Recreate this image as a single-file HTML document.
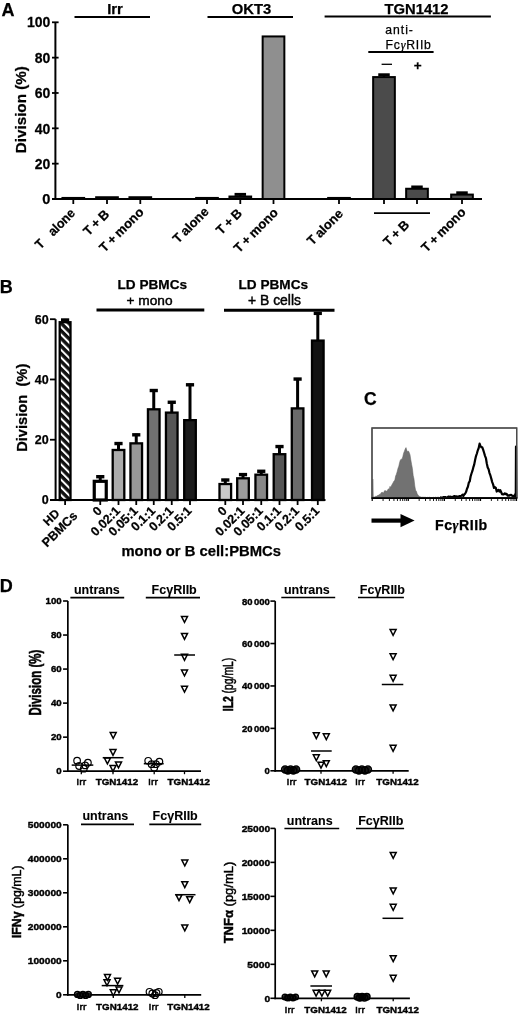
<!DOCTYPE html>
<html><head><meta charset="utf-8"><title>Figure</title>
<style>
html,body{margin:0;padding:0;background:#fff;width:520px;height:1015px;overflow:hidden;}
svg{display:block;will-change:transform;}
text{font-family:"Liberation Sans",sans-serif;stroke:#000;stroke-width:0.25px;}
</style></head><body>
<svg width="520" height="1015" viewBox="0 0 520 1015">
<rect width="520" height="1015" fill="#fff"/>
<text x="1.4" y="15.8" font-size="18" font-weight="bold" text-anchor="start" fill="#000" >A</text>
<line x1="55.4" y1="22.3" x2="55.4" y2="200" stroke="#000" stroke-width="2" stroke-linecap="butt"/>
<line x1="52" y1="22.30000000000001" x2="58.6" y2="22.30000000000001" stroke="#000" stroke-width="1.8" stroke-linecap="butt"/>
<text x="50.3" y="27.50000000000001" font-size="14.6" font-weight="bold" text-anchor="end" fill="#000" transform="translate(50.3,0) scale(0.96,1) translate(-50.3,0)">100</text>
<line x1="52" y1="57.640000000000015" x2="58.6" y2="57.640000000000015" stroke="#000" stroke-width="1.8" stroke-linecap="butt"/>
<text x="50.3" y="62.84000000000002" font-size="14.6" font-weight="bold" text-anchor="end" fill="#000" transform="translate(50.3,0) scale(0.96,1) translate(-50.3,0)">80</text>
<line x1="52" y1="92.98" x2="58.6" y2="92.98" stroke="#000" stroke-width="1.8" stroke-linecap="butt"/>
<text x="50.3" y="98.18" font-size="14.6" font-weight="bold" text-anchor="end" fill="#000" transform="translate(50.3,0) scale(0.96,1) translate(-50.3,0)">60</text>
<line x1="52" y1="128.32" x2="58.6" y2="128.32" stroke="#000" stroke-width="1.8" stroke-linecap="butt"/>
<text x="50.3" y="133.51999999999998" font-size="14.6" font-weight="bold" text-anchor="end" fill="#000" transform="translate(50.3,0) scale(0.96,1) translate(-50.3,0)">40</text>
<line x1="52" y1="163.66" x2="58.6" y2="163.66" stroke="#000" stroke-width="1.8" stroke-linecap="butt"/>
<text x="50.3" y="168.85999999999999" font-size="14.6" font-weight="bold" text-anchor="end" fill="#000" transform="translate(50.3,0) scale(0.96,1) translate(-50.3,0)">20</text>
<text x="50.3" y="204.2" font-size="14.6" font-weight="bold" text-anchor="end" fill="#000" >0</text>
<text x="0" y="0" font-size="15.2" font-weight="bold" text-anchor="middle" transform="translate(25.6,109.7) rotate(-90)">Division (%)</text>
<line x1="52" y1="199.0" x2="482" y2="199.0" stroke="#000" stroke-width="2" stroke-linecap="butt"/>
<line x1="73.3" y1="199.0" x2="73.3" y2="204" stroke="#000" stroke-width="1.8" stroke-linecap="butt"/>
<line x1="107" y1="199.0" x2="107" y2="204" stroke="#000" stroke-width="1.8" stroke-linecap="butt"/>
<line x1="140.3" y1="199.0" x2="140.3" y2="204" stroke="#000" stroke-width="1.8" stroke-linecap="butt"/>
<line x1="207" y1="199.0" x2="207" y2="204" stroke="#000" stroke-width="1.8" stroke-linecap="butt"/>
<line x1="240.3" y1="199.0" x2="240.3" y2="204" stroke="#000" stroke-width="1.8" stroke-linecap="butt"/>
<line x1="273.5" y1="199.0" x2="273.5" y2="204" stroke="#000" stroke-width="1.8" stroke-linecap="butt"/>
<line x1="339" y1="199.0" x2="339" y2="204" stroke="#000" stroke-width="1.8" stroke-linecap="butt"/>
<line x1="384" y1="199.0" x2="384" y2="204" stroke="#000" stroke-width="1.8" stroke-linecap="butt"/>
<line x1="417" y1="199.0" x2="417" y2="204" stroke="#000" stroke-width="1.8" stroke-linecap="butt"/>
<line x1="462" y1="199.0" x2="462" y2="204" stroke="#000" stroke-width="1.8" stroke-linecap="butt"/>
<rect x="62.449999999999996" y="197.9398" width="21.7" height="1.060200000000009" fill="#222" stroke="#000" stroke-width="2.0"/>
<rect x="96.15" y="197.233" width="21.7" height="1.766999999999996" fill="#222" stroke="#000" stroke-width="2.0"/>
<rect x="129.45000000000002" y="197.233" width="21.7" height="1.766999999999996" fill="#222" stroke="#000" stroke-width="2.0"/>
<rect x="196.15" y="197.9398" width="21.7" height="1.060200000000009" fill="#222" stroke="#000" stroke-width="2.0"/>
<line x1="240.3" y1="194.4058" x2="240.3" y2="196.5262" stroke="#000" stroke-width="2.4" stroke-linecap="butt"/>
<line x1="234.55" y1="194.4058" x2="246.05" y2="194.4058" stroke="#000" stroke-width="3.0" stroke-linecap="butt"/>
<rect x="229.45000000000002" y="196.5262" width="21.7" height="2.4738000000000113" fill="#222" stroke="#000" stroke-width="2.0"/>
<rect x="262.65" y="36.43600000000001" width="21.7" height="162.564" fill="#8f8f8f" stroke="#000" stroke-width="2.0"/>
<rect x="328.15" y="197.9398" width="21.7" height="1.060200000000009" fill="#222" stroke="#000" stroke-width="2.0"/>
<line x1="384" y1="74.77990000000001" x2="384" y2="77.07700000000001" stroke="#000" stroke-width="2.4" stroke-linecap="butt"/>
<line x1="378.25" y1="74.77990000000001" x2="389.75" y2="74.77990000000001" stroke="#000" stroke-width="3.0" stroke-linecap="butt"/>
<rect x="373.15" y="77.07700000000001" width="21.7" height="121.92299999999999" fill="#4b4b4b" stroke="#000" stroke-width="2.0"/>
<line x1="417" y1="186.9844" x2="417" y2="188.7514" stroke="#000" stroke-width="2.4" stroke-linecap="butt"/>
<line x1="411.25" y1="186.9844" x2="422.75" y2="186.9844" stroke="#000" stroke-width="3.0" stroke-linecap="butt"/>
<rect x="406.15" y="188.7514" width="21.7" height="10.24860000000001" fill="#4b4b4b" stroke="#000" stroke-width="2.0"/>
<line x1="462" y1="192.8155" x2="462" y2="194.5825" stroke="#000" stroke-width="2.4" stroke-linecap="butt"/>
<line x1="456.25" y1="192.8155" x2="467.75" y2="192.8155" stroke="#000" stroke-width="3.0" stroke-linecap="butt"/>
<rect x="451.15" y="194.5825" width="21.7" height="4.41749999999999" fill="#4b4b4b" stroke="#000" stroke-width="2.0"/>
<line x1="74.5" y1="17" x2="150" y2="17" stroke="#000" stroke-width="2" stroke-linecap="butt"/>
<text x="115" y="13.6" font-size="14.8" font-weight="bold" text-anchor="middle" fill="#000" >Irr</text>
<line x1="207.5" y1="17" x2="293" y2="17" stroke="#000" stroke-width="2" stroke-linecap="butt"/>
<text x="251.6" y="13.6" font-size="14.8" font-weight="bold" text-anchor="middle" fill="#000" >OKT3</text>
<line x1="324.6" y1="16.6" x2="490.9" y2="16.6" stroke="#000" stroke-width="2" stroke-linecap="butt"/>
<text x="416.5" y="13.6" font-size="14.8" font-weight="bold" text-anchor="middle" fill="#000" >TGN1412</text>
<text x="385.2" y="33.7" font-size="12.2" font-weight="normal" text-anchor="start" fill="#000" letter-spacing="1.0" stroke="#000" stroke-width="0.35">anti-</text>
<text x="385.6" y="48.7" font-size="12.2" font-weight="normal" text-anchor="start" fill="#000" letter-spacing="0.75" stroke="#000" stroke-width="0.35">Fc<tspan font-family="Liberation Serif" font-style="italic">&#947;</tspan>RIIb</text>
<line x1="368.3" y1="51.9" x2="433.6" y2="51.9" stroke="#000" stroke-width="2" stroke-linecap="butt"/>
<line x1="381.6" y1="64.3" x2="392" y2="64.3" stroke="#000" stroke-width="1.3" stroke-linecap="butt"/>
<text x="417.6" y="69.6" font-size="13.5" font-weight="bold" text-anchor="middle" fill="#000" >+</text>
<line x1="374" y1="213.2" x2="430" y2="213.2" stroke="#000" stroke-width="1.8" stroke-linecap="butt"/>
<text x="0" y="0" font-size="13" font-weight="bold" text-anchor="end" word-spacing="-0.8" transform="translate(75.9,214) rotate(-45) scale(0.95,1)">T&#160;&#160;&#160;&#160;alone</text>
<text x="0" y="0" font-size="13" font-weight="bold" text-anchor="end" word-spacing="-0.8" transform="translate(110.1,215) rotate(-45) scale(1,1)">T + B</text>
<text x="0" y="0" font-size="13" font-weight="bold" text-anchor="end" word-spacing="-0.8" transform="translate(144.6,212.9) rotate(-45) scale(1,1)">T + mono</text>
<text x="0" y="0" font-size="13" font-weight="bold" text-anchor="end" word-spacing="-0.8" transform="translate(209.6,212.5) rotate(-45) scale(1,1)">T alone</text>
<text x="0" y="0" font-size="13" font-weight="bold" text-anchor="end" word-spacing="-0.8" transform="translate(242.9,214) rotate(-45) scale(1,1)">T + B</text>
<text x="0" y="0" font-size="13" font-weight="bold" text-anchor="end" word-spacing="-0.8" transform="translate(278.9,213.5) rotate(-45) scale(1,1)">T + mono</text>
<text x="0" y="0" font-size="13" font-weight="bold" text-anchor="end" word-spacing="-0.8" transform="translate(343.9,214.5) rotate(-45) scale(1,1)">T alone</text>
<text x="0" y="0" font-size="13" font-weight="bold" text-anchor="end" word-spacing="-0.8" transform="translate(410.1,225.5) rotate(-45) scale(1,1)">T + B</text>
<text x="0" y="0" font-size="13" font-weight="bold" text-anchor="end" word-spacing="-0.8" transform="translate(466.6,213) rotate(-45) scale(1,1)">T + mono</text>
<text x="-0.2" y="293.3" font-size="18" font-weight="bold" text-anchor="start" fill="#000" >B</text>
<line x1="55.6" y1="319.2" x2="55.6" y2="501" stroke="#000" stroke-width="2" stroke-linecap="butt"/>
<line x1="50" y1="319.2" x2="55.6" y2="319.2" stroke="#000" stroke-width="1.8" stroke-linecap="butt"/>
<text x="48.7" y="323.5" font-size="12.5" font-weight="bold" text-anchor="end" fill="#000" >60</text>
<line x1="50" y1="379.46666666666664" x2="55.6" y2="379.46666666666664" stroke="#000" stroke-width="1.8" stroke-linecap="butt"/>
<text x="48.7" y="383.76666666666665" font-size="12.5" font-weight="bold" text-anchor="end" fill="#000" >40</text>
<line x1="50" y1="439.73333333333335" x2="55.6" y2="439.73333333333335" stroke="#000" stroke-width="1.8" stroke-linecap="butt"/>
<text x="48.7" y="444.03333333333336" font-size="12.5" font-weight="bold" text-anchor="end" fill="#000" >20</text>
<line x1="50" y1="500.0" x2="55.6" y2="500.0" stroke="#000" stroke-width="1.8" stroke-linecap="butt"/>
<text x="48.7" y="504.3" font-size="12.5" font-weight="bold" text-anchor="end" fill="#000" >0</text>
<text x="0" y="0" font-size="14.7" font-weight="bold" text-anchor="middle" transform="translate(27,407.8) rotate(-90)">Division&#160; (%)</text>
<line x1="50" y1="500.0" x2="325.5" y2="500.0" stroke="#000" stroke-width="2" stroke-linecap="butt"/>
<defs><pattern id="hatch" patternUnits="userSpaceOnUse" width="5.4" height="5.4" patternTransform="rotate(-45)"><rect width="5.4" height="5.4" fill="#111"/><rect x="0" y="0" width="2.0" height="5.4" fill="#fff"/></pattern></defs>
<line x1="65.1" y1="318.89866666666666" x2="65.1" y2="322.2133333333333" stroke="#000" stroke-width="3.0" stroke-linecap="butt"/>
<line x1="60.99999999999999" y1="319.9986666666667" x2="69.19999999999999" y2="319.9986666666667" stroke="#000" stroke-width="3.4" stroke-linecap="butt"/>
<rect x="59.699999999999996" y="322.2133333333333" width="10.8" height="177.7866666666667" fill="url(#hatch)" stroke="#000" stroke-width="2.3"/>
<line x1="100.25" y1="475.592" x2="100.25" y2="481.31733333333335" stroke="#000" stroke-width="3.0" stroke-linecap="butt"/>
<line x1="96.15" y1="476.692" x2="104.35" y2="476.692" stroke="#000" stroke-width="3.4" stroke-linecap="butt"/>
<rect x="94.25" y="481.31733333333335" width="12.0" height="18.68266666666665" fill="#fff" stroke="#000" stroke-width="3.2"/>
<line x1="118.5" y1="442.44533333333334" x2="118.5" y2="449.97866666666664" stroke="#000" stroke-width="3.0" stroke-linecap="butt"/>
<line x1="114.4" y1="443.54533333333336" x2="122.6" y2="443.54533333333336" stroke="#000" stroke-width="3.4" stroke-linecap="butt"/>
<rect x="112.7" y="449.97866666666664" width="11.6" height="50.02133333333336" fill="#acacac" stroke="#000" stroke-width="2.3"/>
<line x1="136.25" y1="433.70666666666665" x2="136.25" y2="443.34933333333333" stroke="#000" stroke-width="3.0" stroke-linecap="butt"/>
<line x1="132.15" y1="434.8066666666667" x2="140.35" y2="434.8066666666667" stroke="#000" stroke-width="3.4" stroke-linecap="butt"/>
<rect x="130.45" y="443.34933333333333" width="11.6" height="56.650666666666666" fill="#989898" stroke="#000" stroke-width="2.3"/>
<line x1="153.75" y1="389.41066666666666" x2="153.75" y2="409.29866666666663" stroke="#000" stroke-width="3.0" stroke-linecap="butt"/>
<line x1="149.65" y1="390.5106666666667" x2="157.85" y2="390.5106666666667" stroke="#000" stroke-width="3.4" stroke-linecap="butt"/>
<rect x="147.95" y="409.29866666666663" width="11.6" height="90.70133333333337" fill="#717171" stroke="#000" stroke-width="2.3"/>
<line x1="171.75" y1="401.16266666666667" x2="171.75" y2="412.61333333333334" stroke="#000" stroke-width="3.0" stroke-linecap="butt"/>
<line x1="167.65" y1="402.2626666666667" x2="175.85" y2="402.2626666666667" stroke="#000" stroke-width="3.4" stroke-linecap="butt"/>
<rect x="165.95" y="412.61333333333334" width="11.6" height="87.38666666666666" fill="#565656" stroke="#000" stroke-width="2.3"/>
<line x1="190" y1="383.68533333333335" x2="190" y2="420.14666666666665" stroke="#000" stroke-width="3.0" stroke-linecap="butt"/>
<line x1="185.9" y1="384.78533333333337" x2="194.1" y2="384.78533333333337" stroke="#000" stroke-width="3.4" stroke-linecap="butt"/>
<rect x="184.2" y="420.14666666666665" width="11.6" height="79.85333333333335" fill="#1c1c1c" stroke="#000" stroke-width="2.3"/>
<line x1="225.3" y1="478.90666666666664" x2="225.3" y2="484.02933333333334" stroke="#000" stroke-width="3.0" stroke-linecap="butt"/>
<line x1="221.20000000000002" y1="480.00666666666666" x2="229.4" y2="480.00666666666666" stroke="#000" stroke-width="3.4" stroke-linecap="butt"/>
<rect x="219.5" y="484.02933333333334" width="11.6" height="15.97066666666666" fill="#cacaca" stroke="#000" stroke-width="2.3"/>
<line x1="243" y1="473.48266666666666" x2="243" y2="478.304" stroke="#000" stroke-width="3.0" stroke-linecap="butt"/>
<line x1="238.9" y1="474.5826666666667" x2="247.1" y2="474.5826666666667" stroke="#000" stroke-width="3.4" stroke-linecap="butt"/>
<rect x="237.2" y="478.304" width="11.6" height="21.696000000000026" fill="#9c9c9c" stroke="#000" stroke-width="2.3"/>
<line x1="261.25" y1="470.168" x2="261.25" y2="474.688" stroke="#000" stroke-width="3.0" stroke-linecap="butt"/>
<line x1="257.15" y1="471.26800000000003" x2="265.35" y2="471.26800000000003" stroke="#000" stroke-width="3.4" stroke-linecap="butt"/>
<rect x="255.45" y="474.688" width="11.6" height="25.312000000000012" fill="#878787" stroke="#000" stroke-width="2.3"/>
<line x1="279.5" y1="445.45866666666666" x2="279.5" y2="454.19733333333335" stroke="#000" stroke-width="3.0" stroke-linecap="butt"/>
<line x1="275.4" y1="446.5586666666667" x2="283.6" y2="446.5586666666667" stroke="#000" stroke-width="3.4" stroke-linecap="butt"/>
<rect x="273.7" y="454.19733333333335" width="11.6" height="45.80266666666665" fill="#555" stroke="#000" stroke-width="2.3"/>
<line x1="297.6" y1="377.96" x2="297.6" y2="408.3946666666667" stroke="#000" stroke-width="3.0" stroke-linecap="butt"/>
<line x1="293.5" y1="379.06" x2="301.70000000000005" y2="379.06" stroke="#000" stroke-width="3.4" stroke-linecap="butt"/>
<rect x="291.8" y="408.3946666666667" width="11.6" height="91.6053333333333" fill="#6a6a6a" stroke="#000" stroke-width="2.3"/>
<line x1="317.8" y1="312.2693333333333" x2="317.8" y2="340.5946666666666" stroke="#000" stroke-width="3.0" stroke-linecap="butt"/>
<line x1="313.7" y1="313.3693333333333" x2="321.90000000000003" y2="313.3693333333333" stroke="#000" stroke-width="3.4" stroke-linecap="butt"/>
<rect x="312.0" y="340.5946666666666" width="11.6" height="159.40533333333337" fill="#111" stroke="#000" stroke-width="2.3"/>
<line x1="65.1" y1="500.0" x2="65.1" y2="505" stroke="#000" stroke-width="1.8" stroke-linecap="butt"/>
<line x1="100.25" y1="500.0" x2="100.25" y2="505" stroke="#000" stroke-width="1.8" stroke-linecap="butt"/>
<line x1="118.5" y1="500.0" x2="118.5" y2="505" stroke="#000" stroke-width="1.8" stroke-linecap="butt"/>
<line x1="136.25" y1="500.0" x2="136.25" y2="505" stroke="#000" stroke-width="1.8" stroke-linecap="butt"/>
<line x1="153.75" y1="500.0" x2="153.75" y2="505" stroke="#000" stroke-width="1.8" stroke-linecap="butt"/>
<line x1="171.75" y1="500.0" x2="171.75" y2="505" stroke="#000" stroke-width="1.8" stroke-linecap="butt"/>
<line x1="190" y1="500.0" x2="190" y2="505" stroke="#000" stroke-width="1.8" stroke-linecap="butt"/>
<line x1="225.3" y1="500.0" x2="225.3" y2="505" stroke="#000" stroke-width="1.8" stroke-linecap="butt"/>
<line x1="243" y1="500.0" x2="243" y2="505" stroke="#000" stroke-width="1.8" stroke-linecap="butt"/>
<line x1="261.25" y1="500.0" x2="261.25" y2="505" stroke="#000" stroke-width="1.8" stroke-linecap="butt"/>
<line x1="279.5" y1="500.0" x2="279.5" y2="505" stroke="#000" stroke-width="1.8" stroke-linecap="butt"/>
<line x1="297.6" y1="500.0" x2="297.6" y2="505" stroke="#000" stroke-width="1.8" stroke-linecap="butt"/>
<line x1="317.8" y1="500.0" x2="317.8" y2="505" stroke="#000" stroke-width="1.8" stroke-linecap="butt"/>
<text x="152.3" y="289.4" font-size="13.6" font-weight="bold" text-anchor="middle" fill="#000" >LD PBMCs</text>
<text x="149.5" y="305.3" font-size="13.7" font-weight="normal" text-anchor="middle" fill="#000" style="stroke-width:0.45px">+ mono</text>
<line x1="96.5" y1="310.1" x2="204.3" y2="310.1" stroke="#000" stroke-width="3" stroke-linecap="butt"/>
<text x="273.3" y="289.4" font-size="13.6" font-weight="bold" text-anchor="middle" fill="#000" >LD PBMCs</text>
<text x="274.5" y="305.3" font-size="13.9" font-weight="normal" text-anchor="middle" fill="#000" style="stroke-width:0.45px">+ B cells</text>
<line x1="224" y1="310.3" x2="334.5" y2="310.3" stroke="#000" stroke-width="3" stroke-linecap="butt"/>
<text x="0" y="0" font-size="12" font-weight="bold" text-anchor="end" transform="translate(60.3,514.2) rotate(-45)">HD</text>
<text x="0" y="0" font-size="12.6" font-weight="bold" text-anchor="end" transform="translate(78.2,516.5) rotate(-45)">PBMCs</text>
<text x="0" y="0" font-size="12.5" font-weight="bold" text-anchor="end" transform="translate(102.65,511.6) rotate(-45)">0</text>
<text x="0" y="0" font-size="12.5" font-weight="bold" text-anchor="end" transform="translate(120.9,511.6) rotate(-45)">0.02:1</text>
<text x="0" y="0" font-size="12.5" font-weight="bold" text-anchor="end" transform="translate(138.65,511.6) rotate(-45)">0.05:1</text>
<text x="0" y="0" font-size="12.5" font-weight="bold" text-anchor="end" transform="translate(156.15,511.6) rotate(-45)">0.1:1</text>
<text x="0" y="0" font-size="12.5" font-weight="bold" text-anchor="end" transform="translate(174.15,511.6) rotate(-45)">0.2:1</text>
<text x="0" y="0" font-size="12.5" font-weight="bold" text-anchor="end" transform="translate(192.4,511.6) rotate(-45)">0.5:1</text>
<text x="0" y="0" font-size="12.5" font-weight="bold" text-anchor="end" transform="translate(227.70000000000002,511.6) rotate(-45)">0</text>
<text x="0" y="0" font-size="12.5" font-weight="bold" text-anchor="end" transform="translate(245.4,511.6) rotate(-45)">0.02:1</text>
<text x="0" y="0" font-size="12.5" font-weight="bold" text-anchor="end" transform="translate(263.65,511.6) rotate(-45)">0.05:1</text>
<text x="0" y="0" font-size="12.5" font-weight="bold" text-anchor="end" transform="translate(281.9,511.6) rotate(-45)">0.1:1</text>
<text x="0" y="0" font-size="12.5" font-weight="bold" text-anchor="end" transform="translate(300.0,511.6) rotate(-45)">0.2:1</text>
<text x="0" y="0" font-size="12.5" font-weight="bold" text-anchor="end" transform="translate(320.2,511.6) rotate(-45)">0.5:1</text>
<text x="201.2" y="555.9" font-size="14.8" font-weight="bold" text-anchor="middle" fill="#000" >mono or B cell:PBMCs</text>
<text x="363.9" y="405.3" font-size="17.5" font-weight="bold" text-anchor="start" fill="#000" >C</text>
<rect x="372" y="428" width="144.7" height="70" fill="none" stroke="#555" stroke-width="1.2"/>
<line x1="372" y1="498" x2="517" y2="498" stroke="#000" stroke-width="1.6" stroke-linecap="butt"/>
<polygon points="372.8,498.2 372.8,479 373.2,497.23 374.0,496.85 374.8,497.0 375.6,496.28 376.4,496.33 377.2,495.79 378.0,495.15 378.8,495.11 379.6,494.33 380.4,494.2 381.2,492.71 382.0,492.26 382.8,492.56 383.6,493.02 384.4,490.84 385.2,490.58 386.0,491.05 386.8,491.32 387.6,489.93 388.4,488.84 389.2,489.39 390.0,486.33 390.8,487.44 391.6,485.24 392.4,484.06 393.2,482.47 394.0,480.98 394.8,480.25 395.6,476.09 396.4,474.2 397.2,471.49 398.0,468.28 398.8,466.17 399.6,462.48 400.4,459.94 401.2,459.15 402.0,459.15 402.8,456.63 403.6,453.15 404.4,451.25 405.2,449.02 406.0,447.61 406.8,450.35 407.6,451.55 408.4,451.03 409.2,452.39 410.0,454.7 410.8,459.83 411.6,464.36 412.4,468.39 413.2,475.49 414.0,479.08 414.8,485.96 415.6,490.24 416.4,491.34 417.2,493.83 418.0,495.03 418.8,495.96 419.6,496.46 420.4,496.74 421.2,497.31 422.0,496.9 422.8,497.24 423.6,497.19 424.4,497.22 425.2,497.15 426.0,497.49 426.8,497.61 427.6,497.27 428.4,497.46 429.2,497.01 430.0,497.56 430.8,497.53 431.6,497.8 432.4,497.69 433.2,497.27 434.0,497.36 434.8,497.6 435.6,497.09 436.4,497.45 437.2,497.23 438.0,497.2 438.8,497.16 439.6,497.74 440.4,497.24 441.2,497.35 442.0,497.47 442.8,497.8 443.6,497.25 444.4,497.55 445,498.2" fill="#727272" stroke="#606060" stroke-width="0.5"/>
<polyline points="440.0,497.46 440.9,497.6 441.8,497.6 442.7,497.6 443.6,497.01 444.5,497.15 445.4,497.05 446.3,497.6 447.2,497.6 448.1,496.71 449.0,496.71 449.9,496.75 450.8,496.72 451.7,496.99 452.6,497.04 453.5,496.54 454.4,496.12 455.3,496.52 456.2,496.35 457.1,496.48 458.0,496.84 458.9,496.38 459.8,496.02 460.7,495.99 461.6,495.77 462.5,494.66 463.4,495.88 464.3,494.39 465.2,493.63 466.1,491.84 467.0,488.7 467.9,486.69 468.8,482.67 469.7,481.46 470.6,476.5 471.5,473.51 472.4,470.94 473.3,467.45 474.2,464.64 475.1,459.98 476.0,456.12 476.9,453.48 477.8,450.31 478.7,448.02 479.6,443.63 480.5,446.14 481.4,447.17 482.3,447.41 483.2,449.93 484.1,452.79 485.0,455.86 485.9,458.05 486.8,463.52 487.7,467.48 488.6,469.28 489.5,473.03 490.4,475.43 491.3,478.62 492.2,482.1 493.1,484.38 494.0,487.87 494.9,487.17 495.8,487.82 496.7,491.53 497.6,490.65 498.5,489.81 499.4,491.55 500.3,490.18 501.2,492.27 502.1,494.27 503.0,494.39 503.9,494.33 504.8,493.32 505.7,494.07 506.6,493.79 507.5,495.64 508.4,495.4 509.3,495.64 510.2,495.04 511.1,494.87 512.0,495.65 512.9,495.92 513.8,495.82 514.7,495.93 515.8,493 516,446.5 516.3,498" fill="none" stroke="#000" stroke-width="2.2" stroke-linejoin="round"/>
<rect x="372" y="428" width="144.7" height="70" fill="none" stroke="#4a4a4a" stroke-width="1.3"/>
<line x1="371.5" y1="498.2" x2="517.3" y2="498.2" stroke="#000" stroke-width="1.8" stroke-linecap="butt"/>
<line x1="372.2" y1="498.5" x2="372.2" y2="501" stroke="#000" stroke-width="1.2" stroke-linecap="butt"/>
<line x1="383.07" y1="498.5" x2="383.07" y2="501" stroke="#000" stroke-width="0.9" stroke-linecap="butt"/>
<line x1="389.42" y1="498.5" x2="389.42" y2="501" stroke="#000" stroke-width="0.9" stroke-linecap="butt"/>
<line x1="393.93" y1="498.5" x2="393.93" y2="501" stroke="#000" stroke-width="0.9" stroke-linecap="butt"/>
<line x1="397.43" y1="498.5" x2="397.43" y2="501" stroke="#000" stroke-width="0.9" stroke-linecap="butt"/>
<line x1="400.29" y1="498.5" x2="400.29" y2="501" stroke="#000" stroke-width="0.9" stroke-linecap="butt"/>
<line x1="402.71" y1="498.5" x2="402.71" y2="501" stroke="#000" stroke-width="0.9" stroke-linecap="butt"/>
<line x1="404.8" y1="498.5" x2="404.8" y2="501" stroke="#000" stroke-width="0.9" stroke-linecap="butt"/>
<line x1="406.65" y1="498.5" x2="406.65" y2="501" stroke="#000" stroke-width="0.9" stroke-linecap="butt"/>
<line x1="408.3" y1="498.5" x2="408.3" y2="501" stroke="#000" stroke-width="1.2" stroke-linecap="butt"/>
<line x1="419.17" y1="498.5" x2="419.17" y2="501" stroke="#000" stroke-width="0.9" stroke-linecap="butt"/>
<line x1="425.52" y1="498.5" x2="425.52" y2="501" stroke="#000" stroke-width="0.9" stroke-linecap="butt"/>
<line x1="430.03" y1="498.5" x2="430.03" y2="501" stroke="#000" stroke-width="0.9" stroke-linecap="butt"/>
<line x1="433.53" y1="498.5" x2="433.53" y2="501" stroke="#000" stroke-width="0.9" stroke-linecap="butt"/>
<line x1="436.39" y1="498.5" x2="436.39" y2="501" stroke="#000" stroke-width="0.9" stroke-linecap="butt"/>
<line x1="438.81" y1="498.5" x2="438.81" y2="501" stroke="#000" stroke-width="0.9" stroke-linecap="butt"/>
<line x1="440.9" y1="498.5" x2="440.9" y2="501" stroke="#000" stroke-width="0.9" stroke-linecap="butt"/>
<line x1="442.75" y1="498.5" x2="442.75" y2="501" stroke="#000" stroke-width="0.9" stroke-linecap="butt"/>
<line x1="444.4" y1="498.5" x2="444.4" y2="501" stroke="#000" stroke-width="1.2" stroke-linecap="butt"/>
<line x1="455.27" y1="498.5" x2="455.27" y2="501" stroke="#000" stroke-width="0.9" stroke-linecap="butt"/>
<line x1="461.62" y1="498.5" x2="461.62" y2="501" stroke="#000" stroke-width="0.9" stroke-linecap="butt"/>
<line x1="466.13" y1="498.5" x2="466.13" y2="501" stroke="#000" stroke-width="0.9" stroke-linecap="butt"/>
<line x1="469.63" y1="498.5" x2="469.63" y2="501" stroke="#000" stroke-width="0.9" stroke-linecap="butt"/>
<line x1="472.49" y1="498.5" x2="472.49" y2="501" stroke="#000" stroke-width="0.9" stroke-linecap="butt"/>
<line x1="474.91" y1="498.5" x2="474.91" y2="501" stroke="#000" stroke-width="0.9" stroke-linecap="butt"/>
<line x1="477.0" y1="498.5" x2="477.0" y2="501" stroke="#000" stroke-width="0.9" stroke-linecap="butt"/>
<line x1="478.85" y1="498.5" x2="478.85" y2="501" stroke="#000" stroke-width="0.9" stroke-linecap="butt"/>
<line x1="480.5" y1="498.5" x2="480.5" y2="501" stroke="#000" stroke-width="1.2" stroke-linecap="butt"/>
<line x1="491.37" y1="498.5" x2="491.37" y2="501" stroke="#000" stroke-width="0.9" stroke-linecap="butt"/>
<line x1="497.72" y1="498.5" x2="497.72" y2="501" stroke="#000" stroke-width="0.9" stroke-linecap="butt"/>
<line x1="502.23" y1="498.5" x2="502.23" y2="501" stroke="#000" stroke-width="0.9" stroke-linecap="butt"/>
<line x1="505.73" y1="498.5" x2="505.73" y2="501" stroke="#000" stroke-width="0.9" stroke-linecap="butt"/>
<line x1="508.59" y1="498.5" x2="508.59" y2="501" stroke="#000" stroke-width="0.9" stroke-linecap="butt"/>
<line x1="511.01" y1="498.5" x2="511.01" y2="501" stroke="#000" stroke-width="0.9" stroke-linecap="butt"/>
<line x1="513.1" y1="498.5" x2="513.1" y2="501" stroke="#000" stroke-width="0.9" stroke-linecap="butt"/>
<line x1="514.95" y1="498.5" x2="514.95" y2="501" stroke="#000" stroke-width="0.9" stroke-linecap="butt"/>
<line x1="516.5" y1="498.5" x2="516.5" y2="501" stroke="#000" stroke-width="1.2" stroke-linecap="butt"/>
<line x1="371.5" y1="520.6" x2="403" y2="520.6" stroke="#000" stroke-width="4.2" stroke-linecap="butt"/>
<polygon points="400.5,514 414.6,520.6 400.5,527.2" fill="#000"/>
<text x="435" y="529.6" font-size="14.2" font-weight="bold" text-anchor="start" fill="#000" letter-spacing="0.5">Fc<tspan font-family="Liberation Serif" font-style="italic" font-weight="bold">&#947;</tspan>RIIb</text>
<text x="-0.2" y="592.3" font-size="18" font-weight="bold" text-anchor="start" fill="#000" >D</text>
<line x1="67.85" y1="601" x2="67.85" y2="772.1" stroke="#000" stroke-width="1.7" stroke-linecap="butt"/>
<line x1="67.05" y1="771.2" x2="201" y2="771.2" stroke="#000" stroke-width="1.7" stroke-linecap="butt"/>
<line x1="63.05" y1="601.0" x2="67.85" y2="601.0" stroke="#000" stroke-width="1.6" stroke-linecap="butt"/>
<text x="0" y="0" font-size="9.7" font-weight="bold" text-anchor="end" style="stroke-width:0.4px" transform="translate(61.74999999999999,604.2) scale(1.0,1.0)">100</text>
<line x1="63.05" y1="635.04" x2="67.85" y2="635.04" stroke="#000" stroke-width="1.6" stroke-linecap="butt"/>
<text x="0" y="0" font-size="9.7" font-weight="bold" text-anchor="end" style="stroke-width:0.4px" transform="translate(61.74999999999999,638.24) scale(1.0,1.0)">80</text>
<line x1="63.05" y1="669.08" x2="67.85" y2="669.08" stroke="#000" stroke-width="1.6" stroke-linecap="butt"/>
<text x="0" y="0" font-size="9.7" font-weight="bold" text-anchor="end" style="stroke-width:0.4px" transform="translate(61.74999999999999,672.2800000000001) scale(1.0,1.0)">60</text>
<line x1="63.05" y1="703.12" x2="67.85" y2="703.12" stroke="#000" stroke-width="1.6" stroke-linecap="butt"/>
<text x="0" y="0" font-size="9.7" font-weight="bold" text-anchor="end" style="stroke-width:0.4px" transform="translate(61.74999999999999,706.32) scale(1.0,1.0)">40</text>
<line x1="63.05" y1="737.1600000000001" x2="67.85" y2="737.1600000000001" stroke="#000" stroke-width="1.6" stroke-linecap="butt"/>
<text x="0" y="0" font-size="9.7" font-weight="bold" text-anchor="end" style="stroke-width:0.4px" transform="translate(61.74999999999999,740.3600000000001) scale(1.0,1.0)">20</text>
<line x1="63.05" y1="771.2" x2="67.85" y2="771.2" stroke="#000" stroke-width="1.6" stroke-linecap="butt"/>
<text x="0" y="0" font-size="9.7" font-weight="bold" text-anchor="end" style="stroke-width:0.4px" transform="translate(61.74999999999999,774.4000000000001) scale(1.0,1.0)">0</text>
<text x="0" y="0" font-size="16" font-weight="bold" text-anchor="middle" style="stroke-width:0.55px" transform="translate(41.3,682.6) rotate(-90) scale(0.72,1)">Division (%)</text>
<line x1="70.4" y1="597.7" x2="124.2" y2="597.7" stroke="#000" stroke-width="1.7" stroke-linecap="butt"/>
<text x="96.9" y="593.7" font-size="12.5" font-weight="bold" text-anchor="middle" fill="#000" style="stroke-width:0.1px">untrans</text>
<line x1="145.8" y1="597.7" x2="200" y2="597.7" stroke="#000" stroke-width="1.7" stroke-linecap="butt"/>
<text x="174.2" y="593.7" font-size="12.5" font-weight="bold" text-anchor="middle" fill="#000" style="stroke-width:0.1px">Fc&#947;RIIb</text>
<circle cx="77.1" cy="760.7" r="3.3" fill="none" stroke="#000" stroke-width="1.2"/>
<circle cx="87.9" cy="762.7" r="3.3" fill="none" stroke="#000" stroke-width="1.2"/>
<circle cx="79.1" cy="766" r="3.3" fill="none" stroke="#000" stroke-width="1.2"/>
<circle cx="83.8" cy="768.7" r="3.3" fill="none" stroke="#000" stroke-width="1.2"/>
<circle cx="85.2" cy="765.4" r="3.3" fill="none" stroke="#000" stroke-width="1.2"/>
<polygon points="110.20,732.55 116.20,732.55 113.20,738.45" fill="none" stroke="#000" stroke-width="1.5" stroke-linejoin="miter"/>
<polygon points="110.00,749.55 116.00,749.55 113.00,755.45" fill="none" stroke="#000" stroke-width="1.5" stroke-linejoin="miter"/>
<polygon points="104.40,758.05 110.40,758.05 107.40,763.95" fill="none" stroke="#000" stroke-width="1.5" stroke-linejoin="miter"/>
<polygon points="115.50,762.05 121.50,762.05 118.50,767.95" fill="none" stroke="#000" stroke-width="1.5" stroke-linejoin="miter"/>
<polygon points="110.00,765.55 116.00,765.55 113.00,771.45" fill="none" stroke="#000" stroke-width="1.5" stroke-linejoin="miter"/>
<circle cx="148.2" cy="760.8" r="3.3" fill="none" stroke="#000" stroke-width="1.2"/>
<circle cx="159.4" cy="761.6" r="3.3" fill="none" stroke="#000" stroke-width="1.2"/>
<circle cx="151.6" cy="764.2" r="3.3" fill="none" stroke="#000" stroke-width="1.2"/>
<circle cx="154.2" cy="767.7" r="3.3" fill="none" stroke="#000" stroke-width="1.2"/>
<circle cx="156" cy="764.2" r="3.3" fill="none" stroke="#000" stroke-width="1.2"/>
<polygon points="181.50,616.55 187.50,616.55 184.50,622.45" fill="none" stroke="#000" stroke-width="1.5" stroke-linejoin="miter"/>
<polygon points="181.50,633.45 187.50,633.45 184.50,639.35" fill="none" stroke="#000" stroke-width="1.5" stroke-linejoin="miter"/>
<polygon points="181.50,654.35 187.50,654.35 184.50,660.25" fill="none" stroke="#000" stroke-width="1.5" stroke-linejoin="miter"/>
<polygon points="181.50,670.05 187.50,670.05 184.50,675.95" fill="none" stroke="#000" stroke-width="1.5" stroke-linejoin="miter"/>
<polygon points="181.50,686.25 187.50,686.25 184.50,692.15" fill="none" stroke="#000" stroke-width="1.5" stroke-linejoin="miter"/>
<line x1="71.7" y1="765.1" x2="93.3" y2="765.1" stroke="#000" stroke-width="1.5" stroke-linecap="butt"/>
<line x1="102.7" y1="757.7" x2="123.5" y2="757.7" stroke="#000" stroke-width="1.5" stroke-linecap="butt"/>
<line x1="143.8" y1="763.7" x2="163.7" y2="763.7" stroke="#000" stroke-width="1.5" stroke-linecap="butt"/>
<line x1="174.2" y1="655" x2="195" y2="655" stroke="#000" stroke-width="1.5" stroke-linecap="butt"/>
<line x1="81.3" y1="771.2" x2="81.3" y2="774.2" stroke="#000" stroke-width="1.3" stroke-linecap="butt"/>
<text x="0" y="0" font-size="10.6" font-weight="normal" text-anchor="middle" style="stroke-width:0.5px" transform="translate(81.25,785.4) scale(1,0.93)">Irr</text>
<line x1="113" y1="771.2" x2="113" y2="774.2" stroke="#000" stroke-width="1.3" stroke-linecap="butt"/>
<text x="0" y="0" font-size="10" font-weight="bold" text-anchor="middle" style="stroke-width:0.4px" transform="translate(116.9,785.4) scale(0.98,0.93)">TGN1412</text>
<line x1="154.2" y1="771.2" x2="154.2" y2="774.2" stroke="#000" stroke-width="1.3" stroke-linecap="butt"/>
<text x="0" y="0" font-size="10.6" font-weight="normal" text-anchor="middle" style="stroke-width:0.5px" transform="translate(153,785.4) scale(1,0.93)">Irr</text>
<line x1="184.5" y1="771.2" x2="184.5" y2="774.2" stroke="#000" stroke-width="1.3" stroke-linecap="butt"/>
<text x="0" y="0" font-size="10" font-weight="bold" text-anchor="middle" style="stroke-width:0.4px" transform="translate(188.8,785.4) scale(0.98,0.93)">TGN1412</text>
<line x1="275.2" y1="601.1" x2="275.2" y2="771.6999999999999" stroke="#000" stroke-width="1.7" stroke-linecap="butt"/>
<line x1="274.4" y1="770.8" x2="408.7" y2="770.8" stroke="#000" stroke-width="1.7" stroke-linecap="butt"/>
<line x1="270.4" y1="601.1" x2="275.2" y2="601.1" stroke="#000" stroke-width="1.6" stroke-linecap="butt"/>
<text x="0" y="0" font-size="9.7" font-weight="bold" text-anchor="end" style="stroke-width:0.4px" transform="translate(269.9,604.5) scale(0.98,1.0)">80<tspan dx="1.6">000</tspan></text>
<line x1="270.4" y1="643.525" x2="275.2" y2="643.525" stroke="#000" stroke-width="1.6" stroke-linecap="butt"/>
<text x="0" y="0" font-size="9.7" font-weight="bold" text-anchor="end" style="stroke-width:0.4px" transform="translate(269.9,646.925) scale(0.98,1.0)">60<tspan dx="1.6">000</tspan></text>
<line x1="270.4" y1="685.95" x2="275.2" y2="685.95" stroke="#000" stroke-width="1.6" stroke-linecap="butt"/>
<text x="0" y="0" font-size="9.7" font-weight="bold" text-anchor="end" style="stroke-width:0.4px" transform="translate(269.9,689.35) scale(0.98,1.0)">40<tspan dx="1.6">000</tspan></text>
<line x1="270.4" y1="728.375" x2="275.2" y2="728.375" stroke="#000" stroke-width="1.6" stroke-linecap="butt"/>
<text x="0" y="0" font-size="9.7" font-weight="bold" text-anchor="end" style="stroke-width:0.4px" transform="translate(269.9,731.775) scale(0.98,1.0)">20<tspan dx="1.6">000</tspan></text>
<line x1="270.4" y1="770.8" x2="275.2" y2="770.8" stroke="#000" stroke-width="1.6" stroke-linecap="butt"/>
<text x="0" y="0" font-size="9.7" font-weight="bold" text-anchor="end" style="stroke-width:0.4px" transform="translate(269.9,774.1999999999999) scale(0.98,1.0)">0</text>
<text x="0" y="0" font-size="14" font-weight="bold" text-anchor="middle" style="stroke-width:0.54px" transform="translate(233.2,684.5) rotate(-90) scale(0.74,1)">IL2 <tspan font-weight="normal">(pg/mL)</tspan></text>
<line x1="281.3" y1="597.5" x2="335.2" y2="597.5" stroke="#000" stroke-width="1.7" stroke-linecap="butt"/>
<text x="306.9" y="593.5" font-size="12.5" font-weight="bold" text-anchor="middle" fill="#000" style="stroke-width:0.1px">untrans</text>
<line x1="358" y1="597.5" x2="403.9" y2="597.5" stroke="#000" stroke-width="1.7" stroke-linecap="butt"/>
<text x="382.4" y="593.5" font-size="12.5" font-weight="bold" text-anchor="middle" fill="#000" style="stroke-width:0.1px">Fc&#947;RIIb</text>
<rect x="282.35" y="766.55" width="16.50" height="6.50" rx="2.5" fill="#1a1a1a"/>
<circle cx="285.10" cy="769.40" r="3.45" fill="none" stroke="#000" stroke-width="1.6"/>
<circle cx="287.85" cy="770.40" r="3.45" fill="none" stroke="#000" stroke-width="1.6"/>
<circle cx="290.60" cy="769.40" r="3.45" fill="none" stroke="#000" stroke-width="1.6"/>
<circle cx="293.35" cy="770.40" r="3.45" fill="none" stroke="#000" stroke-width="1.6"/>
<circle cx="296.10" cy="769.40" r="3.45" fill="none" stroke="#000" stroke-width="1.6"/>
<polygon points="313.30,732.65 319.30,732.65 316.30,738.55" fill="none" stroke="#000" stroke-width="1.5" stroke-linejoin="miter"/>
<polygon points="323.30,733.75 329.30,733.75 326.30,739.65" fill="none" stroke="#000" stroke-width="1.5" stroke-linejoin="miter"/>
<polygon points="313.30,754.75 319.30,754.75 316.30,760.65" fill="none" stroke="#000" stroke-width="1.5" stroke-linejoin="miter"/>
<polygon points="318.00,762.25 324.00,762.25 321.00,768.15" fill="none" stroke="#000" stroke-width="1.5" stroke-linejoin="miter"/>
<polygon points="323.30,760.65 329.30,760.65 326.30,766.55" fill="none" stroke="#000" stroke-width="1.5" stroke-linejoin="miter"/>
<rect x="353.15" y="766.55" width="17.50" height="6.50" rx="2.5" fill="#1a1a1a"/>
<circle cx="355.90" cy="769.40" r="3.45" fill="none" stroke="#000" stroke-width="1.6"/>
<circle cx="358.90" cy="770.40" r="3.45" fill="none" stroke="#000" stroke-width="1.6"/>
<circle cx="361.90" cy="769.40" r="3.45" fill="none" stroke="#000" stroke-width="1.6"/>
<circle cx="364.90" cy="770.40" r="3.45" fill="none" stroke="#000" stroke-width="1.6"/>
<circle cx="367.90" cy="769.40" r="3.45" fill="none" stroke="#000" stroke-width="1.6"/>
<polygon points="390.10,629.55 396.10,629.55 393.10,635.45" fill="none" stroke="#000" stroke-width="1.5" stroke-linejoin="miter"/>
<polygon points="390.10,653.75 396.10,653.75 393.10,659.65" fill="none" stroke="#000" stroke-width="1.5" stroke-linejoin="miter"/>
<polygon points="390.10,675.35 396.10,675.35 393.10,681.25" fill="none" stroke="#000" stroke-width="1.5" stroke-linejoin="miter"/>
<polygon points="390.10,704.95 396.10,704.95 393.10,710.85" fill="none" stroke="#000" stroke-width="1.5" stroke-linejoin="miter"/>
<polygon points="390.10,745.35 396.10,745.35 393.10,751.25" fill="none" stroke="#000" stroke-width="1.5" stroke-linejoin="miter"/>
<line x1="311" y1="751" x2="331.7" y2="751" stroke="#000" stroke-width="1.5" stroke-linecap="butt"/>
<line x1="381.8" y1="684.5" x2="403.3" y2="684.5" stroke="#000" stroke-width="1.5" stroke-linecap="butt"/>
<line x1="291" y1="770.8" x2="291" y2="773.8" stroke="#000" stroke-width="1.3" stroke-linecap="butt"/>
<text x="0" y="0" font-size="10.6" font-weight="normal" text-anchor="middle" style="stroke-width:0.5px" transform="translate(291.5,784.6) scale(1,0.93)">Irr</text>
<line x1="321" y1="770.8" x2="321" y2="773.8" stroke="#000" stroke-width="1.3" stroke-linecap="butt"/>
<text x="0" y="0" font-size="10" font-weight="bold" text-anchor="middle" style="stroke-width:0.4px" transform="translate(325.8,784.6) scale(0.98,0.93)">TGN1412</text>
<line x1="360" y1="770.8" x2="360" y2="773.8" stroke="#000" stroke-width="1.3" stroke-linecap="butt"/>
<text x="0" y="0" font-size="10.6" font-weight="normal" text-anchor="middle" style="stroke-width:0.5px" transform="translate(360.1,784.6) scale(1,0.93)">Irr</text>
<line x1="393.1" y1="770.8" x2="393.1" y2="773.8" stroke="#000" stroke-width="1.3" stroke-linecap="butt"/>
<text x="0" y="0" font-size="10" font-weight="bold" text-anchor="middle" style="stroke-width:0.4px" transform="translate(397.5,784.6) scale(0.98,0.93)">TGN1412</text>
<line x1="67.85" y1="824.8" x2="67.85" y2="995.8" stroke="#000" stroke-width="1.7" stroke-linecap="butt"/>
<line x1="67.05" y1="994.9" x2="201.2" y2="994.9" stroke="#000" stroke-width="1.7" stroke-linecap="butt"/>
<line x1="63.05" y1="824.8" x2="67.85" y2="824.8" stroke="#000" stroke-width="1.6" stroke-linecap="butt"/>
<text x="0" y="0" font-size="9.7" font-weight="bold" text-anchor="end" style="stroke-width:0.4px" transform="translate(61.74999999999999,828.0999999999999) scale(1.05,1.0)">500000</text>
<line x1="63.05" y1="858.8" x2="67.85" y2="858.8" stroke="#000" stroke-width="1.6" stroke-linecap="butt"/>
<text x="0" y="0" font-size="9.7" font-weight="bold" text-anchor="end" style="stroke-width:0.4px" transform="translate(61.74999999999999,862.0999999999999) scale(1.05,1.0)">400000</text>
<line x1="63.05" y1="892.8" x2="67.85" y2="892.8" stroke="#000" stroke-width="1.6" stroke-linecap="butt"/>
<text x="0" y="0" font-size="9.7" font-weight="bold" text-anchor="end" style="stroke-width:0.4px" transform="translate(61.74999999999999,896.0999999999999) scale(1.05,1.0)">300000</text>
<line x1="63.05" y1="926.8" x2="67.85" y2="926.8" stroke="#000" stroke-width="1.6" stroke-linecap="butt"/>
<text x="0" y="0" font-size="9.7" font-weight="bold" text-anchor="end" style="stroke-width:0.4px" transform="translate(61.74999999999999,930.0999999999999) scale(1.05,1.0)">200000</text>
<line x1="63.05" y1="960.8" x2="67.85" y2="960.8" stroke="#000" stroke-width="1.6" stroke-linecap="butt"/>
<text x="0" y="0" font-size="9.7" font-weight="bold" text-anchor="end" style="stroke-width:0.4px" transform="translate(61.74999999999999,964.0999999999999) scale(1.05,1.0)">100000</text>
<line x1="63.05" y1="994.8" x2="67.85" y2="994.8" stroke="#000" stroke-width="1.6" stroke-linecap="butt"/>
<text x="0" y="0" font-size="9.7" font-weight="bold" text-anchor="end" style="stroke-width:0.4px" transform="translate(61.74999999999999,998.0999999999999) scale(1.05,1.0)">0</text>
<text x="0" y="0" font-size="13" font-weight="bold" text-anchor="middle" style="stroke-width:0.46px" transform="translate(20.8,901.8) rotate(-90) scale(0.95,1)">IFN&#947; <tspan font-weight="normal">(pg/mL)</tspan></text>
<line x1="81" y1="824.4" x2="134" y2="824.4" stroke="#000" stroke-width="1.7" stroke-linecap="butt"/>
<text x="105.3" y="820.4" font-size="12.5" font-weight="bold" text-anchor="middle" fill="#000" style="stroke-width:0.1px">untrans</text>
<line x1="149.3" y1="824.4" x2="201.2" y2="824.4" stroke="#000" stroke-width="1.7" stroke-linecap="butt"/>
<text x="175.2" y="820.4" font-size="12.5" font-weight="bold" text-anchor="middle" fill="#000" style="stroke-width:0.1px">Fc&#947;RIIb</text>
<rect x="75.30" y="992.15" width="15.20" height="5.30" rx="2.5" fill="#1a1a1a"/>
<circle cx="77.45" cy="994.40" r="2.85" fill="none" stroke="#000" stroke-width="1.6"/>
<circle cx="80.18" cy="995.40" r="2.85" fill="none" stroke="#000" stroke-width="1.6"/>
<circle cx="82.90" cy="994.40" r="2.85" fill="none" stroke="#000" stroke-width="1.6"/>
<circle cx="85.63" cy="995.40" r="2.85" fill="none" stroke="#000" stroke-width="1.6"/>
<circle cx="88.35" cy="994.40" r="2.85" fill="none" stroke="#000" stroke-width="1.6"/>
<polygon points="104.50,974.55 110.50,974.55 107.50,980.45" fill="none" stroke="#000" stroke-width="1.5" stroke-linejoin="miter"/>
<polygon points="104.00,979.75 110.00,979.75 107.00,985.65" fill="none" stroke="#000" stroke-width="1.5" stroke-linejoin="miter"/>
<polygon points="114.60,978.25 120.60,978.25 117.60,984.15" fill="none" stroke="#000" stroke-width="1.5" stroke-linejoin="miter"/>
<polygon points="116.00,987.05 122.00,987.05 119.00,992.95" fill="none" stroke="#000" stroke-width="1.5" stroke-linejoin="miter"/>
<polygon points="110.30,989.85 116.30,989.85 113.30,995.75" fill="none" stroke="#000" stroke-width="1.5" stroke-linejoin="miter"/>
<circle cx="149.5" cy="991.8" r="3.3" fill="none" stroke="#000" stroke-width="1.2"/>
<circle cx="158.8" cy="991.8" r="3.3" fill="none" stroke="#000" stroke-width="1.2"/>
<circle cx="155" cy="995.2" r="3.3" fill="none" stroke="#000" stroke-width="1.2"/>
<circle cx="152.3" cy="993.5" r="3.3" fill="none" stroke="#000" stroke-width="1.2"/>
<circle cx="156.5" cy="993" r="3.3" fill="none" stroke="#000" stroke-width="1.2"/>
<polygon points="181.80,860.05 187.80,860.05 184.80,865.95" fill="none" stroke="#000" stroke-width="1.5" stroke-linejoin="miter"/>
<polygon points="181.80,881.65 187.80,881.65 184.80,887.55" fill="none" stroke="#000" stroke-width="1.5" stroke-linejoin="miter"/>
<polygon points="176.00,894.65 182.00,894.65 179.00,900.55" fill="none" stroke="#000" stroke-width="1.5" stroke-linejoin="miter"/>
<polygon points="186.70,896.65 192.70,896.65 189.70,902.55" fill="none" stroke="#000" stroke-width="1.5" stroke-linejoin="miter"/>
<polygon points="181.80,924.95 187.80,924.95 184.80,930.85" fill="none" stroke="#000" stroke-width="1.5" stroke-linejoin="miter"/>
<line x1="101.7" y1="985.6" x2="123.4" y2="985.6" stroke="#000" stroke-width="1.5" stroke-linecap="butt"/>
<line x1="175.3" y1="894.7" x2="195.5" y2="894.7" stroke="#000" stroke-width="1.5" stroke-linecap="butt"/>
<line x1="83" y1="994.9" x2="83" y2="997.9" stroke="#000" stroke-width="1.3" stroke-linecap="butt"/>
<text x="0" y="0" font-size="10.6" font-weight="normal" text-anchor="middle" style="stroke-width:0.5px" transform="translate(81.5,1010) scale(1,0.93)">Irr</text>
<line x1="113.3" y1="994.9" x2="113.3" y2="997.9" stroke="#000" stroke-width="1.3" stroke-linecap="butt"/>
<text x="0" y="0" font-size="10" font-weight="bold" text-anchor="middle" style="stroke-width:0.4px" transform="translate(117.3,1010) scale(0.98,0.93)">TGN1412</text>
<line x1="153.6" y1="994.9" x2="153.6" y2="997.9" stroke="#000" stroke-width="1.3" stroke-linecap="butt"/>
<text x="0" y="0" font-size="10.6" font-weight="normal" text-anchor="middle" style="stroke-width:0.5px" transform="translate(153.6,1010) scale(1,0.93)">Irr</text>
<line x1="184.8" y1="994.9" x2="184.8" y2="997.9" stroke="#000" stroke-width="1.3" stroke-linecap="butt"/>
<text x="0" y="0" font-size="10" font-weight="bold" text-anchor="middle" style="stroke-width:0.4px" transform="translate(188.5,1010) scale(0.98,0.93)">TGN1412</text>
<line x1="275.2" y1="828.4" x2="275.2" y2="999.1999999999999" stroke="#000" stroke-width="1.7" stroke-linecap="butt"/>
<line x1="274.4" y1="998.3" x2="409.9" y2="998.3" stroke="#000" stroke-width="1.7" stroke-linecap="butt"/>
<line x1="270.4" y1="828.4" x2="275.2" y2="828.4" stroke="#000" stroke-width="1.6" stroke-linecap="butt"/>
<text x="0" y="0" font-size="9.7" font-weight="bold" text-anchor="end" style="stroke-width:0.4px" transform="translate(270.2,831.8) scale(1.06,1.0)">25000</text>
<line x1="270.4" y1="862.38" x2="275.2" y2="862.38" stroke="#000" stroke-width="1.6" stroke-linecap="butt"/>
<text x="0" y="0" font-size="9.7" font-weight="bold" text-anchor="end" style="stroke-width:0.4px" transform="translate(270.2,865.78) scale(1.06,1.0)">20000</text>
<line x1="270.4" y1="896.36" x2="275.2" y2="896.36" stroke="#000" stroke-width="1.6" stroke-linecap="butt"/>
<text x="0" y="0" font-size="9.7" font-weight="bold" text-anchor="end" style="stroke-width:0.4px" transform="translate(270.2,899.76) scale(1.06,1.0)">15000</text>
<line x1="270.4" y1="930.3399999999999" x2="275.2" y2="930.3399999999999" stroke="#000" stroke-width="1.6" stroke-linecap="butt"/>
<text x="0" y="0" font-size="9.7" font-weight="bold" text-anchor="end" style="stroke-width:0.4px" transform="translate(270.2,933.7399999999999) scale(1.06,1.0)">10000</text>
<line x1="270.4" y1="964.3199999999999" x2="275.2" y2="964.3199999999999" stroke="#000" stroke-width="1.6" stroke-linecap="butt"/>
<text x="0" y="0" font-size="9.7" font-weight="bold" text-anchor="end" style="stroke-width:0.4px" transform="translate(270.2,967.7199999999999) scale(1.06,1.0)">5000</text>
<line x1="270.4" y1="998.3" x2="275.2" y2="998.3" stroke="#000" stroke-width="1.6" stroke-linecap="butt"/>
<text x="0" y="0" font-size="9.7" font-weight="bold" text-anchor="end" style="stroke-width:0.4px" transform="translate(270.2,1001.6999999999999) scale(1.06,1.0)">0</text>
<text x="0" y="0" font-size="13" font-weight="bold" text-anchor="middle" style="stroke-width:0.45px" transform="translate(233,902.5) rotate(-90) scale(1.0,1)">TNF&#945; <tspan font-weight="normal">(pg/mL)</tspan></text>
<line x1="284.4" y1="828.5" x2="339.2" y2="828.5" stroke="#000" stroke-width="1.7" stroke-linecap="butt"/>
<text x="309.7" y="824.5" font-size="12.5" font-weight="bold" text-anchor="middle" fill="#000" style="stroke-width:0.1px">untrans</text>
<line x1="356" y1="828.5" x2="404.1" y2="828.5" stroke="#000" stroke-width="1.7" stroke-linecap="butt"/>
<text x="380.8" y="824.5" font-size="12.5" font-weight="bold" text-anchor="middle" fill="#000" style="stroke-width:0.1px">Fc&#947;RIIb</text>
<rect x="282.95" y="994.80" width="14.70" height="5.00" rx="2.5" fill="#1a1a1a"/>
<circle cx="284.95" cy="996.90" r="2.70" fill="none" stroke="#000" stroke-width="1.6"/>
<circle cx="287.62" cy="997.90" r="2.70" fill="none" stroke="#000" stroke-width="1.6"/>
<circle cx="290.30" cy="996.90" r="2.70" fill="none" stroke="#000" stroke-width="1.6"/>
<circle cx="292.97" cy="997.90" r="2.70" fill="none" stroke="#000" stroke-width="1.6"/>
<circle cx="295.65" cy="996.90" r="2.70" fill="none" stroke="#000" stroke-width="1.6"/>
<polygon points="311.70,970.95 317.70,970.95 314.70,976.85" fill="none" stroke="#000" stroke-width="1.5" stroke-linejoin="miter"/>
<polygon points="323.20,970.95 329.20,970.95 326.20,976.85" fill="none" stroke="#000" stroke-width="1.5" stroke-linejoin="miter"/>
<polygon points="313.10,990.25 319.10,990.25 316.10,996.15" fill="none" stroke="#000" stroke-width="1.5" stroke-linejoin="miter"/>
<polygon points="318.90,990.25 324.90,990.25 321.90,996.15" fill="none" stroke="#000" stroke-width="1.5" stroke-linejoin="miter"/>
<polygon points="324.70,990.25 330.70,990.25 327.70,996.15" fill="none" stroke="#000" stroke-width="1.5" stroke-linejoin="miter"/>
<rect x="354.95" y="994.20" width="14.30" height="6.00" rx="2.5" fill="#1a1a1a"/>
<circle cx="357.45" cy="996.80" r="3.20" fill="none" stroke="#000" stroke-width="1.6"/>
<circle cx="359.78" cy="997.80" r="3.20" fill="none" stroke="#000" stroke-width="1.6"/>
<circle cx="362.10" cy="996.80" r="3.20" fill="none" stroke="#000" stroke-width="1.6"/>
<circle cx="364.43" cy="997.80" r="3.20" fill="none" stroke="#000" stroke-width="1.6"/>
<circle cx="366.75" cy="996.80" r="3.20" fill="none" stroke="#000" stroke-width="1.6"/>
<polygon points="390.20,852.45 396.20,852.45 393.20,858.35" fill="none" stroke="#000" stroke-width="1.5" stroke-linejoin="miter"/>
<polygon points="390.20,887.95 396.20,887.95 393.20,893.85" fill="none" stroke="#000" stroke-width="1.5" stroke-linejoin="miter"/>
<polygon points="390.20,904.35 396.20,904.35 393.20,910.25" fill="none" stroke="#000" stroke-width="1.5" stroke-linejoin="miter"/>
<polygon points="390.20,955.65 396.20,955.65 393.20,961.55" fill="none" stroke="#000" stroke-width="1.5" stroke-linejoin="miter"/>
<polygon points="390.20,975.35 396.20,975.35 393.20,981.25" fill="none" stroke="#000" stroke-width="1.5" stroke-linejoin="miter"/>
<line x1="310.4" y1="986" x2="332" y2="986" stroke="#000" stroke-width="1.5" stroke-linecap="butt"/>
<line x1="382.5" y1="918.3" x2="403.3" y2="918.3" stroke="#000" stroke-width="1.5" stroke-linecap="butt"/>
<line x1="289.5" y1="998.3" x2="289.5" y2="1001.3" stroke="#000" stroke-width="1.3" stroke-linecap="butt"/>
<text x="0" y="0" font-size="10.6" font-weight="normal" text-anchor="middle" style="stroke-width:0.5px" transform="translate(289.5,1013.4) scale(1,0.93)">Irr</text>
<line x1="321.4" y1="998.3" x2="321.4" y2="1001.3" stroke="#000" stroke-width="1.3" stroke-linecap="butt"/>
<text x="0" y="0" font-size="10" font-weight="bold" text-anchor="middle" style="stroke-width:0.4px" transform="translate(325.5,1013.4) scale(0.98,0.93)">TGN1412</text>
<line x1="360" y1="998.3" x2="360" y2="1001.3" stroke="#000" stroke-width="1.3" stroke-linecap="butt"/>
<text x="0" y="0" font-size="10.6" font-weight="normal" text-anchor="middle" style="stroke-width:0.5px" transform="translate(360.1,1013.4) scale(1,0.93)">Irr</text>
<line x1="393.2" y1="998.3" x2="393.2" y2="1001.3" stroke="#000" stroke-width="1.3" stroke-linecap="butt"/>
<text x="0" y="0" font-size="10" font-weight="bold" text-anchor="middle" style="stroke-width:0.4px" transform="translate(397.7,1013.4) scale(0.98,0.93)">TGN1412</text>
</svg>
</body></html>
